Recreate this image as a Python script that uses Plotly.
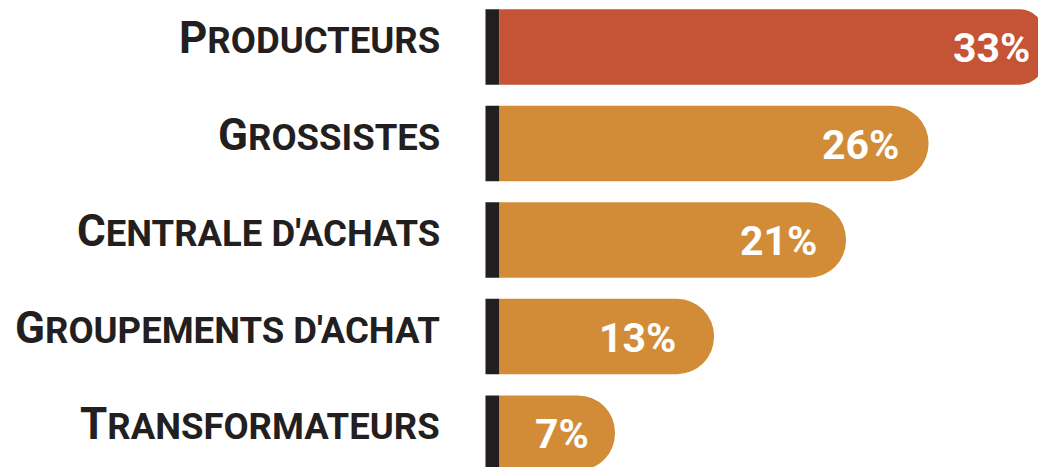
import plotly.graph_objects as go

categories = ["Producteurs", "Grossistes", "Centrale d'achats", "Groupements d'achat", "Transformateurs"]
values = [33, 26, 21, 13, 7]
value_labels = [f"{v}%" for v in values]

RED = "#C55436"
ORANGE = "#D28C38"
DARK = "#231F20"
FONT = "Roboto, DejaVu Sans Condensed, sans-serif"
BAR_W = 0.78


def small_caps(s, big=44, small=36.5):
    return (f"<span style='font-size:{big}px'>{s[0].upper()}</span>"
            f"<span style='font-size:{small}px'>{s[1:].upper()}</span>")


fig = go.Figure()

# dark base strip at the start of each bar
fig.add_trace(go.Bar(
    y=categories, x=[0.85] * len(categories), base=[-0.85] * len(categories),
    orientation="h", width=BAR_W, marker=dict(color=DARK, line=dict(width=0)),
    hoverinfo="skip", showlegend=False,
))

# first bar (red, cut by the edge)
fig.add_trace(go.Bar(
    y=categories[:1], x=values[:1], orientation="h", width=BAR_W,
    marker=dict(color=RED, line=dict(width=0), cornerradius=24),
    showlegend=False,
))
# other bars (orange, fully rounded)
fig.add_trace(go.Bar(
    y=categories[1:], x=values[1:], orientation="h", width=BAR_W,
    marker=dict(color=ORANGE, line=dict(width=0), cornerradius="50%"),
    showlegend=False,
))

annotations = []
for c in categories:
    annotations.append(dict(
        x=0, xref="paper", y=c, yref="y", xanchor="right", yanchor="middle",
        xshift=-41, yshift=9, showarrow=False, text=small_caps(c),
        font=dict(family=FONT, size=36, color=DARK, weight="bold"),
    ))
insets = [12, 28, 27, 36, 24]
for c, v, t, s in zip(categories, values, value_labels, insets):
    annotations.append(dict(
        x=v, xref="x", y=c, yref="y", xanchor="right", yanchor="middle",
        xshift=-s, yshift=-1, showarrow=False, text=t,
        font=dict(family=FONT, size=41, color="white", weight="bold"),
    ))

fig.update_layout(
    width=1046, height=467,
    margin=dict(l=475, r=8, t=0, b=0),
    paper_bgcolor="white", plot_bgcolor="white",
    barmode="overlay",
    xaxis=dict(range=[-1, 33.12], visible=False, fixedrange=True),
    yaxis=dict(type="category", range=[4.435, -0.404], visible=False, fixedrange=True),
    annotations=annotations,
)

fig.write_html("out.html")
